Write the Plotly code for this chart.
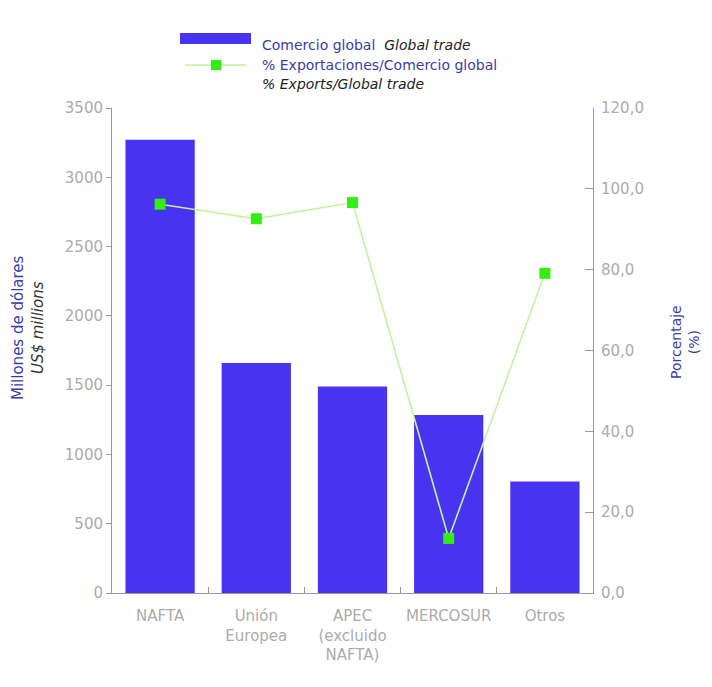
import plotly.graph_objects as go

categories = ["NAFTA", "Unión<br>Europea", "APEC<br>(excluido<br>NAFTA)", "MERCOSUR", "Otros"]
comercio_global = [3270, 1660, 1490, 1285, 805]
pct_export = [96.2, 92.6, 96.6, 13.5, 79.1]

OFF = 8  # page body margin
W, H = 712, 687
FW, FH = W - OFF, H - OFF
# plot area in screen pixels
X0, X1, Y0, Y1 = 112, 593, 108, 593
ML, MR, MT, MB = X0 - OFF, FW - (X1 - OFF), Y0 - OFF, FH - (Y1 - OFF)
PW, PH = X1 - X0, Y1 - Y0

def px(x):
    return (x - X0) / PW

def py(y):
    return (Y1 - y) / PH

BAR = "#4834F0"
GREEN = "#33EE11"
LINEG = "#C2F29A"
BLUE_TXT = "#3C3CA8"
GRAY = "#ABABAB"
FONT = "DejaVu Sans"

fig = go.Figure()
fig.add_trace(go.Bar(x=categories, y=comercio_global, marker=dict(color=BAR, line=dict(width=0)),
                     showlegend=False, yaxis="y"))
fig.add_trace(go.Scatter(x=categories, y=pct_export, mode="lines+markers",
                         line=dict(color=LINEG, width=1.6),
                         marker=dict(symbol="square", size=11, color=GREEN),
                         showlegend=False, yaxis="y2"))

# custom legend
fig.add_shape(type="rect", xref="paper", yref="paper", x0=px(180), x1=px(251), y0=py(44), y1=py(33),
              fillcolor=BAR, line=dict(width=0))
fig.add_shape(type="line", xref="paper", yref="paper", x0=px(185), x1=px(246), y0=py(65), y1=py(65),
              line=dict(color=LINEG, width=1.6))
fig.add_shape(type="rect", xref="paper", yref="paper", x0=px(211), x1=px(221), y0=py(70), y1=py(60),
              fillcolor=GREEN, line=dict(width=0))

ann_font = dict(family=FONT, size=14, color=BLUE_TXT)
fig.add_annotation(xref="paper", yref="paper", x=px(260), y=py(45), xanchor="left", yanchor="middle",
                   showarrow=False, font=ann_font,
                   text="Comercio global  <i><span style='color:#222'>Global trade</span></i>")
fig.add_annotation(xref="paper", yref="paper", x=px(260), y=py(65), xanchor="left", yanchor="middle",
                   showarrow=False, font=ann_font, text="% Exportaciones/Comercio global")
fig.add_annotation(xref="paper", yref="paper", x=px(260), y=py(84), xanchor="left", yanchor="middle",
                   showarrow=False, font=dict(family=FONT, size=14, color="#222"),
                   text="<i>% Exports/Global trade</i>")

# axis titles
fig.add_annotation(xref="paper", yref="paper", x=px(28), y=py(328), textangle=-90, showarrow=False,
                   xanchor="center", yanchor="middle",
                   font=dict(family=FONT, size=15, color=BLUE_TXT),
                   text="Millones de dólares<br><i><span style='color:#333'>US$ millions</span></i>")
fig.add_annotation(xref="paper", yref="paper", x=px(685), y=py(342), textangle=-90, showarrow=False,
                   xanchor="center", yanchor="middle",
                   font=dict(family=FONT, size=14, color=BLUE_TXT),
                   text="Porcentaje<br>(%)")

fig.update_layout(
    width=FW, height=FH,
    margin=dict(l=ML, r=MR, t=MT, b=MB),
    paper_bgcolor="white", plot_bgcolor="white",
    separators=",.",
    bargap=0.28,
    font=dict(family=FONT, size=15, color=GRAY),
    xaxis=dict(showgrid=False, showline=True, linecolor="#999", linewidth=1,
               ticks="inside", tickson="boundaries", ticklen=6, tickcolor="#999",
               ticklabelstandoff=9,
               tickfont=dict(family=FONT, size=15, color=GRAY)),
    yaxis=dict(range=[0, 3500], dtick=500, showgrid=False, showline=True, linecolor="#999",
               ticks="outside", ticklen=5, tickcolor="#999", zeroline=False,
               tickfont=dict(family=FONT, size=15, color=GRAY)),
    yaxis2=dict(range=[0, 120], dtick=20, overlaying="y", side="right", showgrid=False,
                showline=True, linecolor="#999", ticks="inside", ticklen=8, tickcolor="#999",
                tickformat=".1f", zeroline=False, ticklabelstandoff=4,
                tickfont=dict(family=FONT, size=15, color=GRAY)),
)

fig.write_html("out.html")
